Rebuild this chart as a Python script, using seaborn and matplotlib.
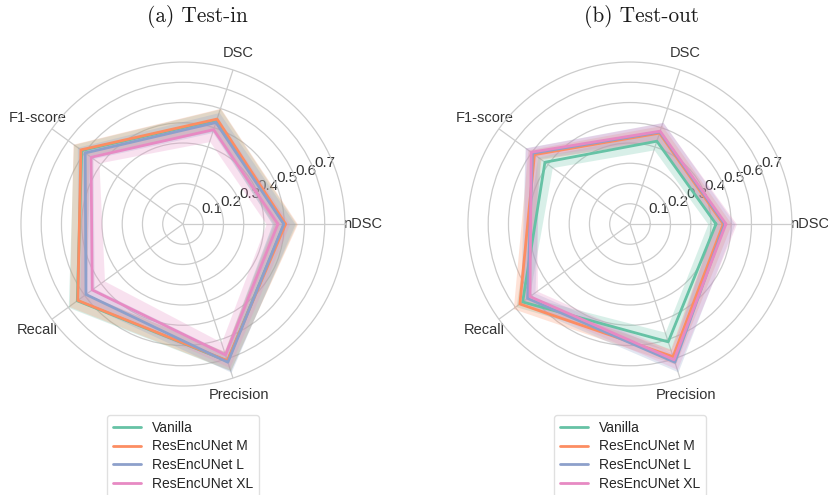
import numpy as np
import pandas as pd
import matplotlib
matplotlib.use("Agg")
import matplotlib.pyplot as plt
import seaborn as sns

# Metrics around the radar, counter-clockwise from the right
metrics = ["nDSC", "DSC", "F1-score", "Recall", "Precision"]
models = ["Vanilla", "ResEncUNet M", "ResEncUNet L", "ResEncUNet XL"]
r_ticks = [0.1, 0.2, 0.3, 0.4, 0.5, 0.6, 0.7]

# (a) Test-in: mean and spread per model
test_in_vanilla = [0.500, 0.540, 0.618, 0.645, 0.712]
test_in_m = [0.507, 0.545, 0.623, 0.642, 0.710]
test_in_l = [0.498, 0.527, 0.597, 0.592, 0.718]
test_in_xl = [0.469, 0.490, 0.561, 0.554, 0.680]
test_in_vanilla_sd = [0.060, 0.058, 0.050, 0.055, 0.050]
test_in_m_sd = [0.058, 0.056, 0.048, 0.052, 0.050]
test_in_l_sd = [0.055, 0.052, 0.048, 0.050, 0.052]
test_in_xl_sd = [0.058, 0.062, 0.048, 0.075, 0.066]

# (b) Test-out: mean and spread per model
test_out_vanilla = [0.425, 0.430, 0.519, 0.655, 0.612]
test_out_m = [0.461, 0.472, 0.583, 0.672, 0.689]
test_out_l = [0.468, 0.478, 0.595, 0.625, 0.718]
test_out_xl = [0.474, 0.482, 0.603, 0.610, 0.705]
test_out_vanilla_sd = [0.040, 0.045, 0.045, 0.040, 0.050]
test_out_m_sd = [0.040, 0.040, 0.040, 0.040, 0.040]
test_out_l_sd = [0.050, 0.050, 0.045, 0.045, 0.050]
test_out_xl_sd = [0.052, 0.045, 0.035, 0.045, 0.050]

panels = [
    ("(a) Test-in",
     [test_in_vanilla, test_in_m, test_in_l, test_in_xl],
     [test_in_vanilla_sd, test_in_m_sd, test_in_l_sd, test_in_xl_sd]),
    ("(b) Test-out",
     [test_out_vanilla, test_out_m, test_out_l, test_out_xl],
     [test_out_vanilla_sd, test_out_m_sd, test_out_l_sd, test_out_xl_sd]),
]

sns.set_theme(style="whitegrid")
plt.rcParams["font.family"] = ["Liberation Sans", "DejaVu Sans"]
colors = sns.color_palette("Set2", len(models))

fig = plt.figure(figsize=(8.29, 4.95), dpi=100)
axes_rects = [
    [0.0253, 0.2202, 0.3908, 0.6545],
    [0.5645, 0.2202, 0.3908, 0.6545],
]
title_x = [197 / 829, 642 / 829]

angles = np.linspace(0, 2 * np.pi, len(metrics), endpoint=False)
closed = np.append(angles, angles[0])

for (title, means, sds), rect, tx in zip(panels, axes_rects, title_x):
    ax = fig.add_axes(rect, projection="polar")
    for name, mean, sd, col in zip(models, means, sds, colors):
        m = np.append(mean, mean[0])
        s = np.append(sd, sd[0])
        ax.fill_between(closed, m - s, m + s, color=col, alpha=0.25, lw=0)
        df = pd.DataFrame({"theta": closed, "r": m})
        sns.lineplot(data=df, x="theta", y="r", ax=ax, sort=False,
                     estimator=None, color=col, lw=2, label=name)
    ax.set_ylim(0, 0.8)
    ax.set_yticks(r_ticks)
    ax.set_yticklabels([f"{t:.1f}" for t in r_ticks], fontsize=11,
                       color="0.2")
    ax.set_rlabel_position(22.5)
    ax.set_xticks(angles)
    ax.set_xticklabels(metrics, fontsize=10.5, color="0.2")
    ax.tick_params(axis="x", pad=0)
    ax.set_xlabel("")
    ax.set_ylabel("")
    ax.grid(color="0.8", lw=0.9)
    ax.spines["polar"].set_color("0.8")
    ax.spines["polar"].set_linewidth(0.9)
    ax.legend(loc="upper center", bbox_to_anchor=(0.5, -0.068),
              fontsize=10, frameon=True, edgecolor="0.85",
              borderpad=0.4, labelspacing=0.35)
    fig.text(tx, 1 - 17 / 495, title, ha="center", va="center",
             family="cmr10", fontsize=15.3, color="0.1")

fig.savefig("out.png", dpi=100, facecolor="white")
